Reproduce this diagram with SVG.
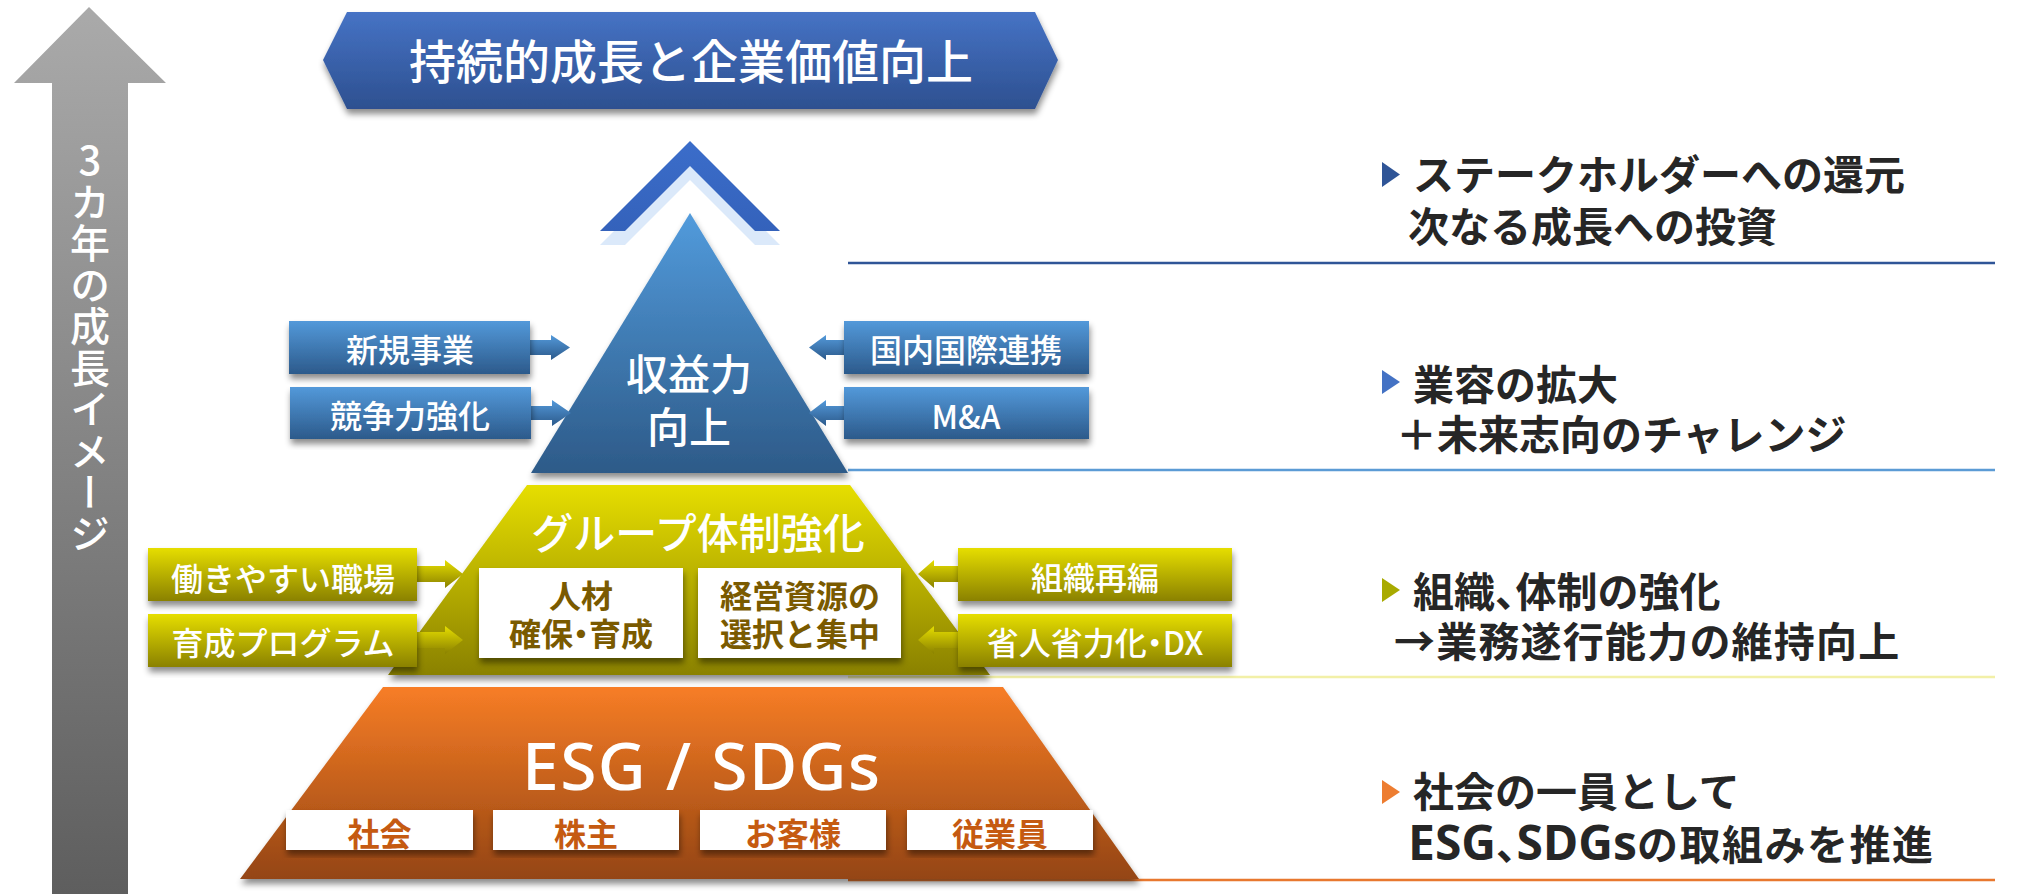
<svg xmlns="http://www.w3.org/2000/svg" width="2017" height="894" viewBox="0 0 2017 894">
<defs>
<linearGradient id="gGray" x1="0" y1="0" x2="0" y2="1"><stop offset="0" stop-color="#aaaaaa"/><stop offset="1" stop-color="#5e5e5e"/></linearGradient>
<linearGradient id="gBanner" x1="0" y1="0" x2="0" y2="1"><stop offset="0" stop-color="#4673c5"/><stop offset="1" stop-color="#2d5090"/></linearGradient>
<linearGradient id="gChev" x1="0" y1="0" x2="0" y2="1"><stop offset="0" stop-color="#3b6dca"/><stop offset="1" stop-color="#3462bb"/></linearGradient>
<linearGradient id="gTri" x1="0" y1="0" x2="0" y2="1"><stop offset="0" stop-color="#529bdc"/><stop offset="1" stop-color="#2d5a88"/></linearGradient>
<linearGradient id="gBlue" x1="0" y1="0" x2="0" y2="1"><stop offset="0" stop-color="#5399da"/><stop offset="1" stop-color="#2c5a8b"/></linearGradient>
<linearGradient id="gYel" x1="0" y1="0" x2="0" y2="1"><stop offset="0" stop-color="#e6de00"/><stop offset="1" stop-color="#8a8100"/></linearGradient>
<linearGradient id="gOra" x1="0" y1="0" x2="0" y2="1"><stop offset="0" stop-color="#f77d26"/><stop offset="1" stop-color="#944512"/></linearGradient>
<filter id="sh" x="-10%" y="-10%" width="120%" height="130%"><feDropShadow dx="1" dy="5" stdDeviation="3" flood-color="#000" flood-opacity="0.45"/></filter>
<style>
text{font-family:"Noto Sans CJK JP","Noto Sans",sans-serif;}
.w{fill:#fff;font-weight:500;}
.lbl{font-size:32px;text-anchor:middle;}
.br{fill:#7a5a00;font-weight:700;font-size:32px;text-anchor:middle;}
.or{fill:#c55a11;font-weight:700;font-size:32px;text-anchor:middle;}
.rt{fill:#262626;font-weight:700;font-size:41px;}
.h{font-feature-settings:"halt" 1;}
.lat{font-family:"Noto Sans","Noto Sans CJK JP",sans-serif;font-size:48px;}
.sep{stroke-width:2.5;fill:none;}
</style>
</defs>
<rect width="2017" height="894" fill="#fff"/>

<g id="growth-arrow">
<polygon points="89,7 166,83 128,83 128,894 52,894 52,83 14,83" fill="url(#gGray)"/>
<text x="90" y="140" class="w" font-size="40" font-weight="400" style="writing-mode:vertical-rl;text-orientation:upright;" letter-spacing="1.5">3カ年の成長イメージ</text>
</g>

<g id="separators">
<line x1="848" y1="263" x2="1995" y2="263" stroke="#2f5597" class="sep"/>
<line x1="848" y1="470" x2="1995" y2="470" stroke="#5b9bd5" class="sep"/>
<line x1="848" y1="677" x2="1995" y2="677" stroke="#f2f0a8" class="sep"/>
<line x1="848" y1="880" x2="1995" y2="880" stroke="#e8782f" class="sep"/>
</g>

<g id="goal-banner">
<polygon points="323,60 347,12 1035,12 1058,60 1035,109 347,109" fill="url(#gBanner)" filter="url(#sh)"/>
<text x="691" y="79" class="w" font-size="47" text-anchor="middle" font-weight="400">持続的成長と企業価値向上</text>
</g>

<g id="chevron">
<polygon points="690,155 780,245 755,245 690,180 625,245 600,245" fill="#dbe9fa"/>
<polygon points="690,141 780,231 755,231 690,166 625,231 600,231" fill="url(#gChev)"/>
</g>

<g id="tier-earnings">
<polygon points="690,213 848,473 531,473" fill="url(#gTri)" filter="url(#sh)"/>
<text class="w" font-size="42" text-anchor="middle"><tspan x="689" y="390">収益力</tspan><tspan x="689" y="443">向上</tspan></text>
</g>

<g id="tier-group">
<polygon points="527,485 850,485 990,675 388,675" fill="url(#gYel)" filter="url(#sh)"/>
<text x="698" y="549" class="w" font-size="42" text-anchor="middle">グループ体制強化</text>
</g>

<g id="box-talent">
<rect x="479" y="568" width="204" height="90" fill="#fff" filter="url(#sh)"/>
<text class="br"><tspan x="581" y="608">人材</tspan><tspan x="581" y="646">確保<tspan class="h">・</tspan>育成</tspan></text>
</g>
<g id="box-resources">
<rect x="698" y="568" width="203" height="90" fill="#fff" filter="url(#sh)"/>
<text class="br"><tspan x="800" y="608">経営資源の</tspan><tspan x="800" y="646">選択と集中</tspan></text>
</g>

<g id="tier-esg">
<polygon points="383,687 1003,687 1139,879 240,879" fill="url(#gOra)" filter="url(#sh)"/>
<text x="701" y="790" class="w" font-size="66" text-anchor="middle" font-weight="400" style="font-family:'Noto Sans','Noto Sans CJK JP',sans-serif;" textLength="358" lengthAdjust="spacing">ESG / SDGs</text>
</g>

<g id="stake-society"><rect x="286" y="810" width="187" height="40" fill="#fff" filter="url(#sh)"/><text x="379.5" y="846" class="or">社会</text></g>
<g id="stake-shareholders"><rect x="493" y="810" width="186" height="40" fill="#fff" filter="url(#sh)"/><text x="586" y="846" class="or">株主</text></g>
<g id="stake-customers"><rect x="700" y="810" width="186" height="40" fill="#fff" filter="url(#sh)"/><text x="793" y="846" class="or">お客様</text></g>
<g id="stake-employees"><rect x="907" y="810" width="186" height="40" fill="#fff" filter="url(#sh)"/><text x="1000" y="846" class="or">従業員</text></g>

<g id="connectors">
<polygon points="530,340 551,340 551,335 570,347.5 551,360 551,355 530,355" fill="url(#gBlue)"/>
<polygon points="531,406 552,406 552,400 571,413 552,426 552,420 531,420" fill="url(#gBlue)"/>
<polygon points="844,340 826,340 826,335 809,347.5 826,360 826,355 844,355" fill="url(#gBlue)"/>
<polygon points="844,406 826,406 826,400 809,413 826,426 826,420 844,420" fill="url(#gBlue)"/>
<polygon points="417,566 445,566 445,560 463,574 445,588 445,582 417,582" fill="url(#gYel)"/>
<polygon points="417,632 445,632 445,626 463,640 445,654 445,648 417,648" fill="url(#gYel)"/>
<polygon points="958,566 934,566 934,560 918,574 934,588 934,582 958,582" fill="url(#gYel)"/>
<polygon points="958,632 934,632 934,626 918,640 934,654 934,648 958,648" fill="url(#gYel)"/>
</g>

<g id="box-new-business"><rect x="289" y="321" width="241" height="53" fill="url(#gBlue)" filter="url(#sh)"/><text x="410" y="362" class="w lbl">新規事業</text></g>
<g id="box-competitiveness"><rect x="290" y="387" width="241" height="52" fill="url(#gBlue)" filter="url(#sh)"/><text x="410" y="428" class="w lbl">競争力強化</text></g>
<g id="box-alliances"><rect x="844" y="321" width="245" height="53" fill="url(#gBlue)" filter="url(#sh)"/><text x="966" y="362" class="w lbl">国内国際連携</text></g>
<g id="box-ma"><rect x="844" y="387" width="245" height="52" fill="url(#gBlue)" filter="url(#sh)"/><text x="966" y="429" class="w lbl" font-size="40">M&amp;A</text></g>

<g id="box-workplace"><rect x="148" y="548" width="269" height="53" fill="url(#gYel)" filter="url(#sh)"/><text x="283" y="591" class="w lbl">働きやすい職場</text></g>
<g id="box-training"><rect x="148" y="614" width="269" height="53" fill="url(#gYel)" filter="url(#sh)"/><text x="283" y="655" class="w lbl">育成プログラム</text></g>
<g id="box-reorg"><rect x="958" y="548" width="274" height="53" fill="url(#gYel)" filter="url(#sh)"/><text x="1095" y="590" class="w lbl">組織再編</text></g>
<g id="box-dx"><rect x="958" y="614" width="274" height="53" fill="url(#gYel)" filter="url(#sh)"/><text x="1095" y="655" class="w lbl">省人省力化<tspan class="h">・</tspan>DX</text></g>

<g id="note-1">
<polygon points="1382,162 1400,174.5 1382,187" fill="#2f5597"/>
<text class="rt"><tspan x="1413" y="190">ステークホルダーへの還元</tspan><tspan x="1408" y="242">次なる成長への投資</tspan></text>
</g>
<g id="note-2">
<polygon points="1382,370 1400,382 1382,394" fill="#4472c4"/>
<text class="rt"><tspan x="1413" y="400">業容の拡大</tspan><tspan x="1396" y="450">＋未来志向のチャレンジ</tspan></text>
</g>
<g id="note-3">
<polygon points="1382,578 1400,590 1382,602" fill="#a8aa00"/>
<text class="rt"><tspan x="1413" y="607">組織<tspan class="h">、</tspan>体制の強化</tspan><tspan x="1394" y="657" letter-spacing="1.2">→業務遂行能力の維持向上</tspan></text>
</g>
<g id="note-4">
<polygon points="1382,780 1400,792 1382,804" fill="#ed7d31"/>
<text class="rt"><tspan x="1413" y="807">社会の一員として</tspan><tspan x="1408" y="860"><tspan class="lat">ESG</tspan><tspan class="h">、</tspan><tspan class="lat">SDGs</tspan><tspan letter-spacing="1.5">の取組みを推進</tspan></tspan></text>
</g>
</svg>
